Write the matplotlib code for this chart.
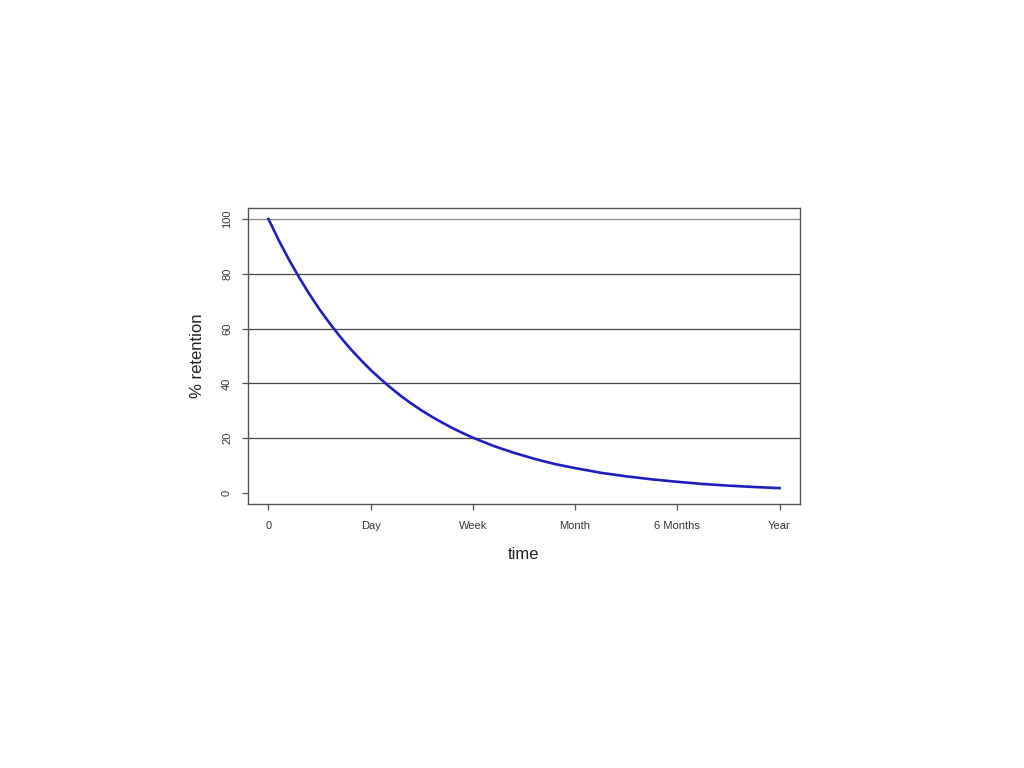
import numpy as np
import matplotlib
matplotlib.use('Agg')
import matplotlib.pyplot as plt

plt.rcParams['font.family'] = ['Liberation Sans', 'DejaVu Sans']

# curve (denser where it bends most)
t = [0, 0.1, 0.2, 0.3, 0.4, 0.5, 0.6, 0.7, 0.8, 0.9, 1.0,
     1.1, 1.2, 1.3, 1.4, 1.5, 1.6, 1.7, 1.8, 1.9, 2.0,
     2.2, 2.4, 2.6, 2.8, 3.0, 3.25, 3.5, 3.75, 4.0, 4.25, 4.5, 4.75, 5.0]
retention = [100, 92.3, 85.2, 78.7, 72.6, 67.0, 61.9, 57.1, 52.7, 48.7, 44.9,
             41.5, 38.3, 35.3, 32.6, 30.1, 27.8, 25.7, 23.7, 21.9, 20.2,
             17.2, 14.7, 12.5, 10.6, 9.1, 7.4, 6.1, 5.0, 4.1, 3.3, 2.7, 2.2, 1.8]

xticks = [0, 1, 2, 3, 4, 5]
xlabels = ['0', 'Day', 'Week', 'Month', '6 Months', 'Year']
yticks = [0, 20, 40, 60, 80, 100]
gridlines = [20, 40, 60, 80, 100]

fig = plt.figure(figsize=(10.24, 7.68), dpi=100)
ax = fig.add_axes([248/1024, 1 - 504/768, 552/1024, 296/768])

for g in gridlines:
    c = '#888888' if g == 100 else '#444444'
    ax.axhline(g, color=c, lw=0.9, zorder=1)

ax.plot(t, retention, color='#1e1ebe', lw=1.9, zorder=3, solid_joinstyle='round')

ax.set_xlim(-0.2, 5.2)
ax.set_ylim(-4, 104)
ax.set_xticks(xticks)
ax.set_xticklabels(xlabels)
ax.set_yticks(yticks)
ax.set_yticklabels([str(v) for v in yticks], rotation=90, va='center')

for s in ax.spines.values():
    s.set_color('#555555')
    s.set_linewidth(1.0)

ax.tick_params(axis='both', direction='out', length=4.5, width=0.9,
               color='#555555', labelsize=8, labelcolor='#333333')
ax.tick_params(axis='x', pad=8)
ax.tick_params(axis='y', pad=7)

ax.set_xlabel('time', fontsize=12, color='#222222', labelpad=11)
ax.set_ylabel('% retention', fontsize=12, color='#222222', labelpad=12)

fig.savefig('out.png', dpi=100)
